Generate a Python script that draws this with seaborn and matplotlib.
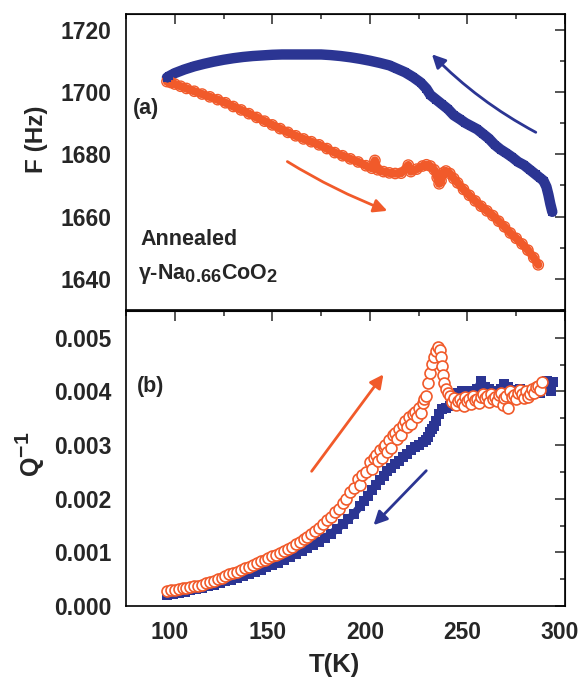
import numpy as np
import pandas as pd
import matplotlib
matplotlib.use("Agg")
import matplotlib.pyplot as plt
import matplotlib._mathtext as mathtext_mod
import seaborn as sns
from matplotlib.ticker import MultipleLocator, FormatStrFormatter
from matplotlib.transforms import ScaledTranslation

# bigger sub/superscripts, like the original figure
mathtext_mod.SHRINK_FACTOR = 0.85

# (a) resonance frequency, cooling (blue squares) and heating (orange circles)
f_cool_T = [293.5, 292.5, 291.5, 290.5, 289, 287, 285, 282, 279, 276, 273, 270, 267, 264, 261,
            258, 255, 252, 249, 246, 243, 240, 237, 234, 231, 229, 226, 222, 218, 214, 210, 205,
            200, 195, 190, 185, 180, 175, 170, 165, 160, 155, 150, 145, 140, 135, 130, 125, 120,
            115, 110, 105, 100, 97, 96]
f_cool_F = [1661.5, 1664, 1667, 1669.5, 1671.5, 1672.5, 1673.5, 1675, 1676.5, 1677.5, 1679,
            1680.3, 1681.5, 1683, 1685, 1686.5, 1688, 1689, 1690, 1691.3, 1692.5, 1694.5, 1696,
            1697.5, 1699, 1701, 1703, 1704.8, 1706.3, 1707.4, 1708.5, 1709.3, 1710, 1710.6,
            1711.1, 1711.5, 1711.8, 1712, 1712, 1712, 1712, 1712, 1711.9, 1711.7, 1711.5,
            1711.2, 1710.8, 1710.3, 1709.7, 1709, 1708.2, 1707.2, 1706, 1705, 1704.6]

f_heat_T = [96, 98, 100, 103, 106, 110, 114, 118, 122, 126, 130, 134, 138, 142, 146, 150, 154,
            158, 162, 166, 170, 174, 178, 182, 186, 190, 194, 198, 201, 202.6, 204, 207, 210,
            213, 216, 219.7, 221, 224, 227, 229, 231, 233, 234.5, 235.5, 236.5, 237.5, 239, 241,
            243, 245, 248, 251, 254, 257, 260, 263, 266, 269, 272, 275, 278, 281, 284, 286.3]
f_heat_F = [1703.3, 1703, 1702.5, 1701.8, 1701.1, 1700.2, 1699.3, 1698.4, 1697.5, 1696.5, 1695.3,
            1694.2, 1693, 1691.8, 1690.6, 1689.4, 1688.2, 1687, 1685.9, 1684.9, 1684, 1683,
            1681.8, 1680.5, 1679.5, 1678.5, 1677.5, 1676.3, 1675.5, 1678, 1675, 1674.4, 1674,
            1673.8, 1673.9, 1676.5, 1674.4, 1675.2, 1676.2, 1676.6, 1676.2, 1675, 1672.5, 1670.5,
            1671.5, 1674, 1674.6, 1673.8, 1672.2, 1670.8, 1668.7, 1666.8, 1665, 1663.3, 1661.8,
            1660.3, 1658.5, 1656.7, 1654.7, 1653, 1651.2, 1649.2, 1646.8, 1644.5]

# (b) internal friction Q^-1
q_cool_T = [294, 293, 291, 289, 287, 285, 283, 281, 279, 277, 275, 273, 271, 269, 267, 265, 263,
            261, 259, 257, 255, 253, 251, 249, 247, 245, 243, 241, 239, 237, 235.5, 234, 233, 232,
            231, 230, 229, 227, 225, 223, 221, 219, 217, 215, 213, 211, 209, 207, 205, 203, 201,
            199, 197, 195, 192, 189, 186, 183, 180, 177, 174, 171, 168, 165, 162, 159, 156, 153,
            150, 147, 144, 141, 138, 135, 132, 129, 126, 123, 120, 117, 114, 111, 108, 105, 102,
            99, 96]
q_cool_Q = [0.00418, 0.00400, 0.00420, 0.00405, 0.00398, 0.00402, 0.00396, 0.00400, 0.00398,
            0.00404, 0.00396, 0.00402, 0.00408, 0.00414, 0.00405, 0.00400, 0.00398, 0.00404,
            0.00408, 0.00420, 0.00405, 0.00398, 0.00400, 0.00396, 0.00400, 0.00398, 0.00392,
            0.00372, 0.00370, 0.00368, 0.00358, 0.00345, 0.00335, 0.00330, 0.00325, 0.00315,
            0.00310, 0.00305, 0.00300, 0.00296, 0.00290, 0.00283, 0.00277, 0.00270, 0.00264,
            0.00257, 0.00252, 0.00242, 0.00235, 0.00226, 0.00216, 0.00206, 0.00196, 0.00186,
            0.00172, 0.00162, 0.00152, 0.00143, 0.00135, 0.00127, 0.00120, 0.00114, 0.00108,
            0.00102, 0.00097, 0.00091, 0.00086, 0.00081, 0.00077, 0.00072, 0.00068, 0.00064,
            0.00060, 0.00056, 0.00052, 0.00049, 0.00046, 0.00043, 0.00040, 0.00037, 0.00034,
            0.00031, 0.00029, 0.00027, 0.00025, 0.00023, 0.00021]

q_heat_T = [96, 98, 100, 102, 104, 106, 108, 110, 112, 114, 116, 118, 120, 122, 124, 126, 128,
            130, 132, 134, 136, 138, 140, 142, 144, 146, 148, 150, 152, 154, 156, 158, 160, 162,
            164, 166, 168, 170, 172, 174, 176, 178, 180, 182, 184, 186, 188, 190, 192, 194, 195,
            196, 198, 200, 201, 202, 203, 204, 205, 206, 207, 208, 209, 210, 211, 212, 213, 214,
            215, 216, 217, 218, 219, 220, 221, 222, 223, 224, 225, 226, 227, 228, 229, 230, 231,
            232, 233, 234, 235, 236, 236.5, 237, 237.5, 238, 239, 240, 241, 242, 243, 244, 245,
            246, 247, 248, 249, 250, 251, 252, 253, 254, 255, 256, 257, 258, 259, 260, 261, 262,
            263, 264, 265, 266, 267, 268, 269, 270, 271, 272, 273, 274, 275, 276, 277, 278, 279,
            280, 281, 282, 283, 284, 285, 286, 287, 288]
q_heat_Q = [0.00028, 0.00029, 0.00030, 0.00031, 0.00033, 0.00034, 0.00035, 0.00037, 0.00038,
            0.00040, 0.00042, 0.00044, 0.00047, 0.00050, 0.00053, 0.00056, 0.00059, 0.00061,
            0.00064, 0.00067, 0.00070, 0.00073, 0.00077, 0.00080, 0.00083, 0.00086, 0.00089,
            0.00093, 0.00096, 0.00099, 0.00103, 0.00107, 0.00110, 0.00115, 0.00120, 0.00124,
            0.00129, 0.00134, 0.00140, 0.00146, 0.00153, 0.00160, 0.00166, 0.00175, 0.00180,
            0.00192, 0.00200, 0.00212, 0.00220, 0.00236, 0.00225, 0.00245, 0.00250, 0.00268,
            0.00255, 0.00276, 0.00282, 0.00270, 0.00290, 0.00275, 0.00296, 0.00300, 0.00288,
            0.00310, 0.00295, 0.00318, 0.00322, 0.00312, 0.00330, 0.00318, 0.00338, 0.00345,
            0.00334, 0.00352, 0.00340, 0.00358, 0.00362, 0.00352, 0.00370, 0.00360, 0.00378,
            0.00385, 0.00392, 0.00415, 0.00435, 0.00452, 0.00465, 0.00475, 0.00482, 0.00478,
            0.00465, 0.00448, 0.00430, 0.00415, 0.00405, 0.00398, 0.00392, 0.00380, 0.00388,
            0.00375, 0.00383, 0.00385, 0.00378, 0.00372, 0.00390, 0.00382, 0.00386, 0.00376,
            0.00392, 0.00384, 0.00385, 0.00378, 0.00390, 0.00395, 0.00388, 0.00392, 0.00380,
            0.00396, 0.00386, 0.00390, 0.00383, 0.00394, 0.00398, 0.00375, 0.00388, 0.00392,
            0.00370, 0.00400, 0.00390, 0.00393, 0.00385, 0.00398, 0.00403, 0.00395, 0.00388,
            0.00400, 0.00390, 0.00396, 0.00405, 0.00398, 0.00408, 0.00410, 0.00402, 0.00418]

blue = "#2b3593"
orange = "#f15a2a"

sns.set_style("white")
plt.rcParams["font.family"] = ["Liberation Sans", "DejaVu Sans"]
plt.rcParams["font.weight"] = "bold"
plt.rcParams["mathtext.fontset"] = "custom"
plt.rcParams["mathtext.rm"] = "Liberation Sans:bold"
plt.rcParams["mathtext.it"] = "Liberation Sans:bold"
plt.rcParams["mathtext.bf"] = "Liberation Sans:bold"

fig = plt.figure(figsize=(5.8, 6.78), dpi=100)
ax1 = fig.add_axes([0.2172, 0.5428, 0.7569, 0.4366])
ax2 = fig.add_axes([0.2172, 0.1062, 0.7569, 0.4351])

# top panel
sns.lineplot(x=f_heat_T, y=f_heat_F, sort=False, estimator=None, color=orange, lw=6, ax=ax1)
sns.scatterplot(x=f_heat_T, y=f_heat_F, marker="o", s=55, facecolor="none", edgecolor=orange,
                linewidth=1, ax=ax1, zorder=3)
sns.lineplot(x=f_cool_T, y=f_cool_F, sort=False, estimator=None, color=blue, lw=7.5, ax=ax1)
sns.scatterplot(x=f_cool_T, y=f_cool_F, marker="s", s=40, color=blue, linewidth=0, ax=ax1,
                zorder=4)

# bottom panel
sns.lineplot(x=q_cool_T, y=q_cool_Q, sort=False, estimator=None, color=blue, lw=5.5, ax=ax2)
sns.scatterplot(x=q_cool_T, y=q_cool_Q, marker="s", s=60, color=blue, linewidth=0, ax=ax2,
                zorder=3)
sns.scatterplot(x=q_heat_T, y=q_heat_Q, marker="o", s=62, facecolor="white", edgecolor=orange,
                linewidth=1.2, ax=ax2, zorder=4)

ax1.set_xlim(75, 300)
ax2.set_xlim(75, 300)
ax1.set_ylim(1630, 1725)
ax2.set_ylim(0, 0.0055)

ax1.yaxis.set_major_locator(MultipleLocator(20))
ax1.yaxis.set_minor_locator(MultipleLocator(10))
ax2.yaxis.set_major_locator(MultipleLocator(0.001))
ax2.yaxis.set_minor_locator(MultipleLocator(0.0005))
ax2.yaxis.set_major_formatter(FormatStrFormatter("%.3f"))

for ax in (ax1, ax2):
    ax.xaxis.set_major_locator(MultipleLocator(50))
    ax.xaxis.set_minor_locator(MultipleLocator(25))
    for sp in ax.spines.values():
        sp.set_linewidth(1.2)
        sp.set_color("black")
    ax.tick_params(which="both", direction="out", width=1.1, labelsize=16.5)
    ax.tick_params(which="major", length=7)
    ax.tick_params(which="minor", length=3.5)
    # inward ticks on top and right
    top = ax.secondary_xaxis("top")
    top.xaxis.set_major_locator(MultipleLocator(50))
    top.xaxis.set_minor_locator(MultipleLocator(25))
    top.tick_params(which="both", direction="in", width=1.1, labeltop=False)
    top.tick_params(which="major", length=7)
    top.tick_params(which="minor", length=3.5)
    right = ax.secondary_yaxis("right")
    right.yaxis.set_major_locator(ax.yaxis.get_major_locator())
    right.yaxis.set_minor_locator(ax.yaxis.get_minor_locator())
    right.tick_params(which="both", direction="in", width=1.1, labelright=False)
    right.tick_params(which="major", length=7)
    right.tick_params(which="minor", length=3.5)

ax1.tick_params(labelbottom=False)
# x tick labels sit a little left of their ticks in the original
shift = ScaledTranslation(-5 / 100, 0, fig.dpi_scale_trans)
for lab in ax2.get_xticklabels():
    lab.set_transform(lab.get_transform() + shift)

ax1.set_xlabel("")
ax1.set_ylabel("F (Hz)", fontsize=17.5, fontweight="bold")
ax1.yaxis.set_label_coords(-0.178, 0.578)
ax2.set_ylabel("Q$^{-1}$", fontsize=18, fontweight="bold")
ax2.yaxis.set_label_coords(-0.18, 0.515)
ax2.set_xlabel("T(K)", fontsize=18.5, fontweight="bold")
ax2.xaxis.set_label_coords(0.475, -0.158)

ax1.text(78.6, 1694.7, "(a)", fontsize=15.5, fontweight="bold", va="center")
ax2.text(80.6, 0.0041, "(b)", fontsize=15.5, fontweight="bold", va="center")
ax1.text(82.5, 1652.5, "Annealed", fontsize=15.5, fontweight="bold", va="center")
ax1.text(81, 1641.5, "\u03b3-Na$_{0.66}$CoO$_2$", fontsize=15.5, fontweight="bold", va="center")

# direction arrows
ax1.annotate("", xy=(230.8, 1712.7), xytext=(286.3, 1686.6),
             arrowprops=dict(arrowstyle="-|>", color=blue, lw=2, mutation_scale=20,
                             connectionstyle="arc3,rad=-0.08"))
ax1.annotate("", xy=(210.3, 1661.5), xytext=(156.5, 1678.1),
             arrowprops=dict(arrowstyle="-|>", color=orange, lw=2, mutation_scale=20,
                             connectionstyle="arc3,rad=0.05"))
ax2.annotate("", xy=(207.8, 0.00436), xytext=(169.3, 0.00247),
             arrowprops=dict(arrowstyle="-|>", color=orange, lw=2, mutation_scale=20))
ax2.annotate("", xy=(200.9, 0.00147), xytext=(229.9, 0.00256),
             arrowprops=dict(arrowstyle="-|>", color=blue, lw=2, mutation_scale=20))

plt.savefig("out.png", dpi=100)
